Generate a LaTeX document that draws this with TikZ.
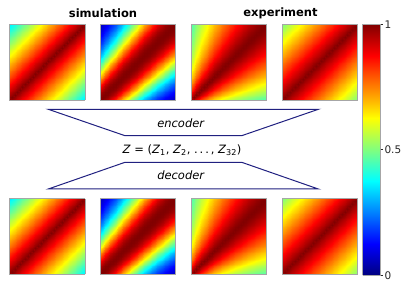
\documentclass[tikz,border=0pt]{standalone}
\usepackage{fontspec}
\setmainfont{DejaVu Sans}
\usepackage{tikz}
\usepackage{pgfplots}
\usetikzlibrary{positioning, calc}
\pgfplotsset{compat=1.18}
\definecolor{trapblue}{RGB}{32,32,128}

% one correlation map
\pgfplotsset{
  corrmap/.style={scale only axis, width=75.7pt, height=75.7pt, anchor=south west,
    xmin=0, xmax=1, ymin=0, ymax=1, enlargelimits=false, view={0}{90},
    ticks=none, axis on top, axis line style={draw=gray!70, line width=0.6pt},
    colormap/jet, point meta min=0, point meta max=1},
}
% the four kinds of maps
\newcommand{\simA}{1-0.65*abs(x-y)}
\newcommand{\simB}{exp(-(x-y)*(x-y)/((0.45+0.15*(x+y))*(0.45+0.15*(x+y))))}
\newcommand{\expA}{1-0.72*(abs(x-y)/(0.2+max(x,y)))*sqrt(abs(x-y)/(0.2+max(x,y)))}
\newcommand{\expB}{1-0.5*abs(x-y)}
\newcommand{\corrplot}[4]{%
  \begin{axis}[corrmap, name=#1, at={(#2pt,#3pt)}]
    \addplot3[surf, shader=interp, domain=0:1, y domain=0:1, samples=30] {#4};
  \end{axis}}

\begin{document}
\begin{tikzpicture}[x=1pt, y=1pt,
    title/.style={font=\bfseries\fontsize{11.5}{13}\selectfont},
    trap/.style={draw=trapblue, line width=1pt, line join=miter},
    code/.style={font=\fontsize{11.5}{13}\selectfont},
    cblabel/.style={anchor=west, inner sep=0pt, font=\fontsize{10.5}{12}\selectfont, text=black!85},
    cbtick/.style={draw=black!85, line width=0.6pt}]
  \useasboundingbox (0,0) rectangle (407,289);

  % titles
  \node[title] (simtitle) at (103,276) {simulation};
  \node[title] (exptitle) at (280.5,276) {experiment};

  % input maps
  \corrplot{inA}{9.3}{189}{\simA}
  \corrplot{inB}{100}{189}{\simB}
  \corrplot{inC}{191}{189}{\expA}
  \corrplot{inD}{282}{189}{\expB}

  % encoder and decoder
  \draw[trap] (48.3,179.7) -- (318.3,179.7) -- (241.7,153.3) -- (125,153.3) -- cycle;
  \draw[trap] (125,126.7) -- (241.7,126.7) -- (318.3,100) -- (48.3,100) -- cycle;
  \node[code] (enc) at (181,166) {\textit{encoder}};
  \node[code] (latent) at (182,139) {\textit{Z} = (\textit{Z}\textsubscript{1}, \textit{Z}\textsubscript{2}, .\,.\,.\,, \textit{Z}\textsubscript{32})};
  \node[code] (dec) at (181,114) {\textit{decoder}};

  % output maps
  \corrplot{outA}{9.3}{14.7}{\simA}
  \corrplot{outB}{100}{14.7}{\simB}
  \corrplot{outC}{191}{14.7}{\expA}
  \corrplot{outD}{282}{14.7}{\expB}

  % colour bar
  \begin{axis}[scale only axis, width=18pt, height=251pt, anchor=south west, name=cbar,
      at={(362.7pt,13.7pt)}, xmin=0, xmax=1, ymin=0, ymax=1, enlargelimits=false,
      view={0}{90}, ticks=none, axis on top, axis line style={draw=gray!70, line width=0.6pt},
      colormap/jet, point meta min=0, point meta max=1]
    \addplot3[surf, shader=interp, domain=0:1, y domain=0:1, samples=2, samples y=17] {y};
  \end{axis}
  \foreach \v/\t/\n in {0/0/cblow, 0.5/0.5/cbmid, 1/1/cbtop} {
    \draw[cbtick] ($(cbar.south east)!\v!(cbar.north east)$) -- ++(2.5,0)
      node[cblabel, right=1pt] (\n) {\t};
  }
\end{tikzpicture}
\end{document}
